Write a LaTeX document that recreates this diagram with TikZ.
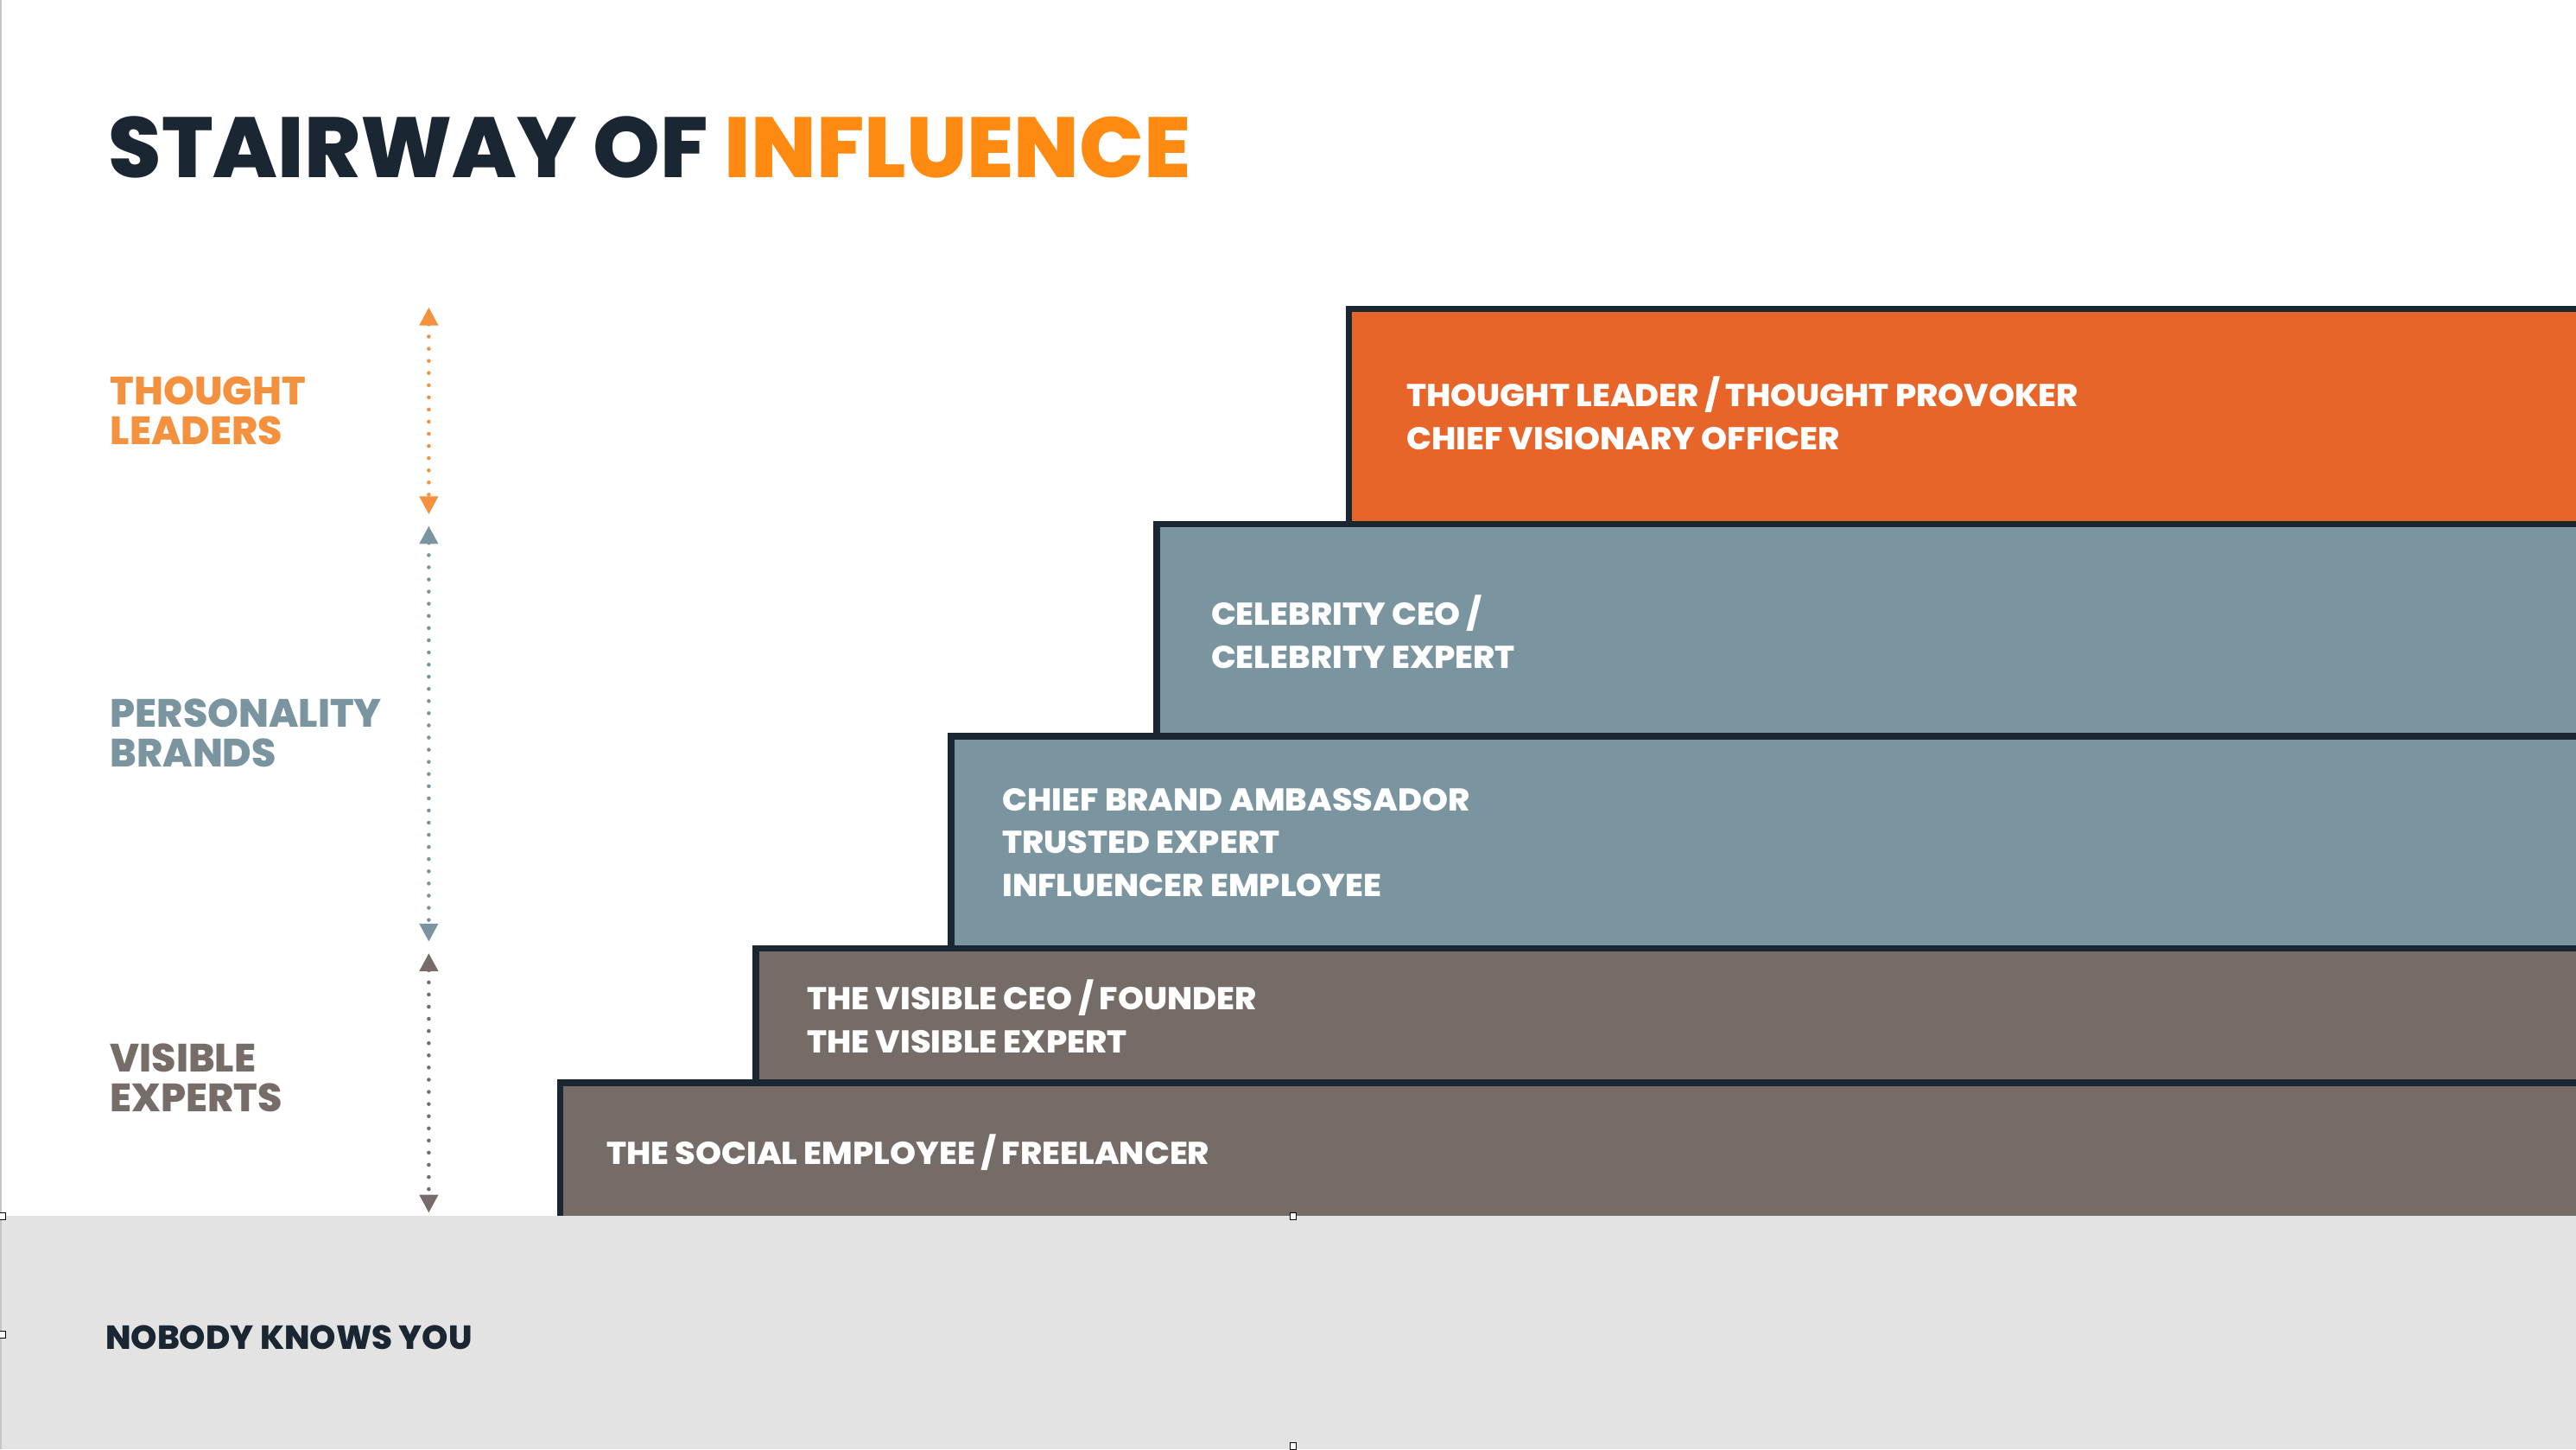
\documentclass[tikz,border=0pt]{standalone}
\usepackage{fontspec}
\setmainfont{Poppins}[BoldFont={* ExtraBold}]
\newfontfamily\boxfont{Poppins ExtraBold}[FakeStretch=1.045]
\usetikzlibrary{arrows.meta}
\definecolor{navy}{HTML}{1A2631}
\definecolor{orangebox}{HTML}{E8652A}
\definecolor{bluebox}{HTML}{7A94A0}
\definecolor{taupebox}{HTML}{756C67}
\definecolor{titleorange}{HTML}{FF8A12}
\definecolor{labelorange}{HTML}{F4913F}
\definecolor{labelblue}{HTML}{7A94A0}
\definecolor{labeltaupe}{HTML}{776D68}
\definecolor{band}{HTML}{E3E3E3}
\definecolor{edgegrey}{HTML}{C3C7CB}
\tikzset{
  stepbox/.style={draw=navy,line width=4pt},
  boxtext/.style={anchor=west,inner sep=0pt,align=left,text=white,font=\boxfont\fontsize{19.2}{26}\selectfont},
  sidelabel/.style={anchor=west,inner sep=0pt,align=left,font=\fontsize{24}{24}\selectfont\bfseries},
  levelarrow/.style={draw=#1,line width=2.4pt,dash pattern=on 0pt off 7.4pt,line cap=round,
    {Triangle[width=11pt,length=11pt,fill=#1]}-{Triangle[width=11pt,length=11pt,fill=#1]}},
  handle/.style={draw=black,fill=white,line width=0.4pt,minimum size=4pt,inner sep=0pt}
}
\begin{document}
\begin{tikzpicture}[x=1pt,y=-1pt]
\useasboundingbox (0,0) rectangle (1568,882);
\fill[white] (0,0) rectangle (1568,882);
% steps
\path[stepbox,fill=orangebox] (821,188) rectangle (1600,330);
\path[stepbox,fill=bluebox]   (704,319) rectangle (1600,460);
\path[stepbox,fill=bluebox]   (579,448) rectangle (1600,590);
\path[stepbox,fill=taupebox]  (460,577) rectangle (1600,670);
\path[stepbox,fill=taupebox]  (341,659) rectangle (1600,760);
% ground band
\fill[band] (0,740) rectangle (1568,882);
\draw[edgegrey,line width=1.2pt] (0.6,0) -- (0.6,882);
% title
\node[anchor=base west,inner sep=0pt] (title) at (66,108)
  {\fontsize{52}{52}\selectfont\bfseries\textcolor{navy}{STAIRWAY OF} \textcolor{titleorange}{INFLUENCE}};
% step texts
\node[boxtext] (s1) at (856,251.5) {THOUGHT LEADER / THOUGHT PROVOKER\\CHIEF VISIONARY OFFICER};
\node[boxtext] (s2) at (737,384.5) {CELEBRITY CEO /\\CELEBRITY EXPERT};
\node[boxtext] (s3) at (610,512.5) {CHIEF BRAND AMBASSADOR\\TRUSTED EXPERT\\INFLUENCER EMPLOYEE};
\node[boxtext] (s4) at (491,618.5) {THE VISIBLE CEO / FOUNDER\\THE VISIBLE EXPERT};
\node[boxtext] (s5) at (369,701) {THE SOCIAL EMPLOYEE / FREELANCER};
\node[anchor=west,inner sep=0pt,text=navy,font=\fontsize{20.3}{20.3}\selectfont\bfseries] (nobody) at (64,814) {NOBODY KNOWS YOU};
% side labels
\node[sidelabel,text=labelorange] (l1) at (67,250) {THOUGHT\\LEADERS};
\node[sidelabel,text=labelblue]   (l2) at (67,446) {PERSONALITY\\BRANDS};
\node[sidelabel,text=labeltaupe]  (l3) at (67,656) {VISIBLE\\EXPERTS};
% arrows
\coordinate (a1) at (261,187); \coordinate (b1) at (261,313);
\coordinate (a2) at (261,320); \coordinate (b2) at (261,573);
\coordinate (a3) at (261,580); \coordinate (b3) at (261,738);
\draw[levelarrow=labelorange] (a1) -- (b1);
\draw[levelarrow=labelblue] (a2) -- (b2);
\draw[levelarrow=labeltaupe] (a3) -- (b3);
% selection handles
\node[handle] (h1) at (1.5,740) {};
\node[handle] (h2) at (787,740) {};
\node[handle] (h3) at (1.5,812) {};
\node[handle] (h4) at (787,880) {};
\end{tikzpicture}
\end{document}
